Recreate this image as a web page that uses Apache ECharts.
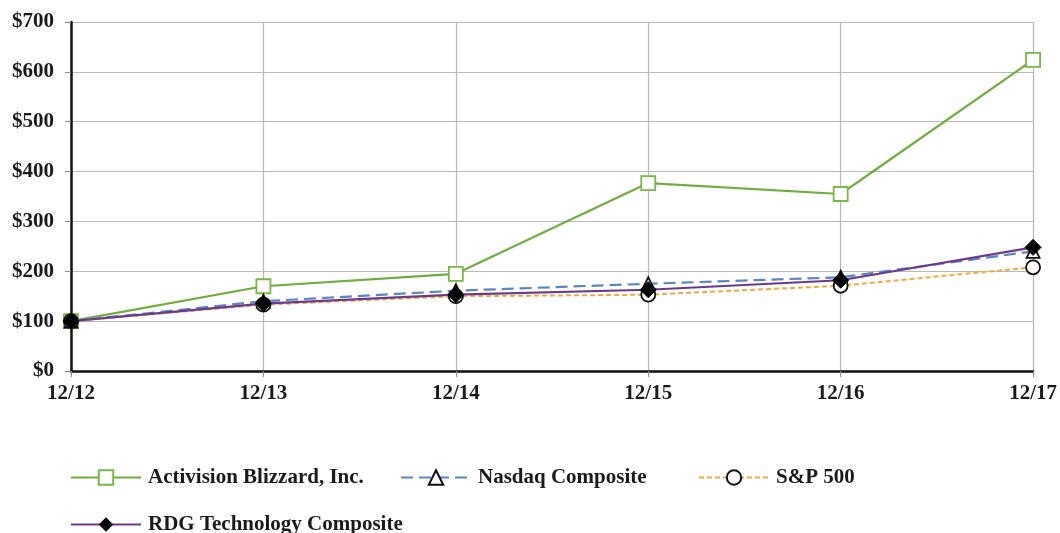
<!DOCTYPE html>
<html><head><meta charset="utf-8">
<script src="https://cdn.jsdelivr.net/npm/echarts@6/dist/echarts.min.js"></script>
<style>html,body{margin:0;padding:0;background:#fff}#c{width:1060px;height:533px}</style>
</head><body><div id="c"></div>
<script>
const categories = ['12/12','12/13','12/14','12/15','12/16','12/17'];
const activision = [100, 170, 195, 377, 355, 624];
const nasdaq = [100, 140, 161, 175, 188, 240];
const sp500 = [100, 133, 150, 153, 171, 208];
const rdg = [100, 135, 153, 163, 182, 248];
const seriesNames = ['Activision Blizzard, Inc.', 'Nasdaq Composite', 'S&P 500', 'RDG Technology Composite'];

const font = 'Liberation Serif';
const chart = echarts.init(document.getElementById('c'));
const legendBase = {
  orient: 'horizontal', itemWidth: 70, itemHeight: 18, itemGap: 10, padding: 0,
  textStyle: {fontFamily: font, fontWeight: 'bold', fontSize: 21, color: '#1a1a1a', padding: [0, 0, 0, 2]}
};
chart.setOption({
  animation: false,
  grid: {left: 71, right: 26, top: 22, bottom: 162},
  legend: [
    Object.assign({}, legendBase, {data: [seriesNames[0]], left: 70, top: 467}),
    Object.assign({}, legendBase, {data: [seriesNames[1]], left: 400, top: 467}),
    Object.assign({}, legendBase, {data: [seriesNames[2]], left: 698, top: 467}),
    Object.assign({}, legendBase, {data: [seriesNames[3]], left: 70, top: 514})
  ],
  xAxis: {
    type: 'category', data: categories, boundaryGap: false,
    axisLine: {lineStyle: {color: '#111', width: 2.5}},
    axisTick: {show: true, length: 6, lineStyle: {color: '#888'}},
    axisLabel: {fontFamily: font, fontWeight: 'bold', fontSize: 21, color: '#1a1a1a', margin: 12},
    splitLine: {show: true, lineStyle: {color: '#b8b8b8', width: 1.2}}
  },
  yAxis: {
    type: 'value', min: 0, max: 700, interval: 100,
    axisLine: {show: true, lineStyle: {color: '#111', width: 2.5}},
    axisTick: {show: true, length: 6, lineStyle: {color: '#888'}},
    axisLabel: {fontFamily: font, fontWeight: 'bold', fontSize: 21, color: '#1a1a1a', margin: 17,
      formatter: v => '$' + v},
    splitLine: {lineStyle: {color: '#b8b8b8', width: 1.2}}
  },
  series: [
    {name: seriesNames[0], type: 'line', data: activision, symbol: 'rect', symbolSize: 14,
      lineStyle: {color: '#6fae3e', width: 2.2},
      itemStyle: {color: '#fff', borderColor: '#7ab648', borderWidth: 1.8}, z: 2},
    {name: seriesNames[1], type: 'line', data: nasdaq, symbol: 'triangle', symbolSize: 13,
      lineStyle: {color: '#5b85bf', width: 2.2, type: [12, 6]},
      itemStyle: {color: '#fff', borderColor: '#111', borderWidth: 1.8}, z: 3},
    {name: seriesNames[2], type: 'line', data: sp500, symbol: 'circle', symbolSize: 14,
      lineStyle: {color: '#f3a93f', width: 2, type: [5, 3]},
      itemStyle: {color: '#fff', borderColor: '#111', borderWidth: 1.8}, z: 4},
    {name: seriesNames[3], type: 'line', data: rdg, symbol: 'diamond', symbolSize: 16,
      lineStyle: {color: '#6b3a8e', width: 2.2},
      itemStyle: {color: '#000', borderColor: '#000'}, z: 5}
  ]
});
</script></body></html>
